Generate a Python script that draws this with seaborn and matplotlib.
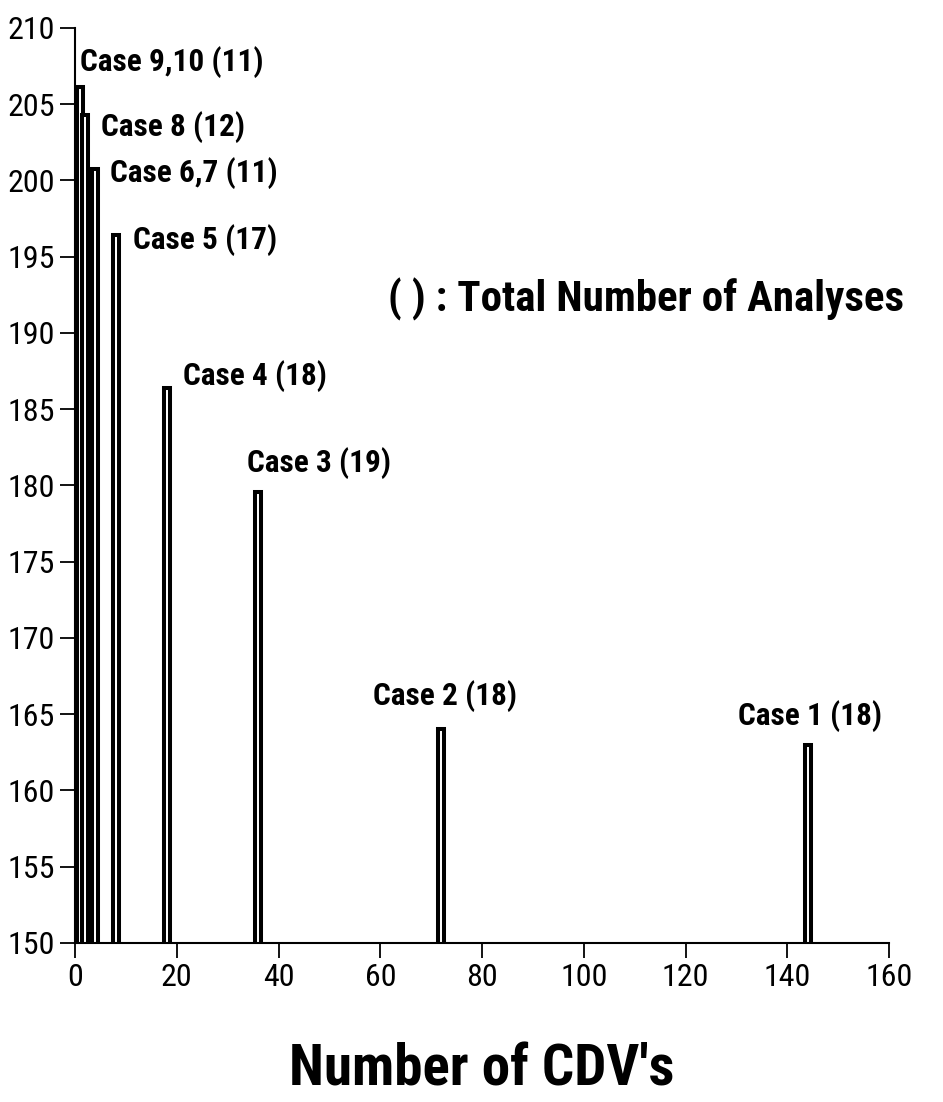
import matplotlib
matplotlib.use("Agg")
import matplotlib.pyplot as plt
import seaborn as sb
import pandas as pd

# values
n_cdv = [1, 2, 4, 8, 18, 36, 72, 144]
scores = [206.1, 204.3, 200.75, 196.4, 186.4, 179.6, 164.0, 163.0]
case_labels = ["Case 9,10 (11)", "Case 8 (12)", "Case 6,7 (11)", "Case 5 (17)",
               "Case 4 (18)", "Case 3 (19)", "Case 2 (18)", "Case 1 (18)"]
label_x = [1.0, 5.1, 6.9, 11.4, 21.2, 33.8, 58.5, 130.3]
label_y = [207.8, 203.5, 200.5, 196.1, 187.2, 181.5, 166.2, 164.9]

df = pd.DataFrame({"cdv": n_cdv, "score": scores})

sb.set_style("ticks")
plt.rcParams["font.family"] = ["Roboto Condensed", "DejaVu Sans"]
plt.rcParams["font.stretch"] = "condensed"
plt.rcParams["text.color"] = "black"
plt.rcParams["xtick.color"] = "black"
plt.rcParams["ytick.color"] = "black"
plt.rcParams["axes.labelcolor"] = "black"
plt.rcParams["axes.edgecolor"] = "black"

fig = plt.figure(figsize=(9.43, 11.02), dpi=100)
ax = fig.add_axes([0.0795, 0.1443, 0.8635, 0.8303])

sb.barplot(data=df, x="cdv", y="score", native_scale=True, width=1.2,
           color="white", edgecolor="black", linewidth=2.9, errorbar=None, ax=ax)

for txt, lx, ly in zip(case_labels, label_x, label_y):
    ax.text(lx, ly, txt, fontsize=22.5, fontweight="bold", va="center", ha="left")

ax.text(61.5, 192.2, "( ) : Total Number of Analyses", fontsize=31,
        fontweight="bold", va="center", ha="left")

ax.set_xlim(0, 160)
ax.set_ylim(150, 210)
ax.set_xticks(range(0, 161, 20))
ax.set_yticks(range(150, 211, 5))
ax.tick_params(axis="both", labelsize=23, length=11, width=1.3, direction="out")
ax.set_xlabel("Number of CDV's", fontsize=41, fontweight="bold", labelpad=36)
ax.set_ylabel("")
for s in ["top", "right"]:
    ax.spines[s].set_visible(False)
for s in ["left", "bottom"]:
    ax.spines[s].set_linewidth(1.5)

plt.savefig("out.png", dpi=100)
